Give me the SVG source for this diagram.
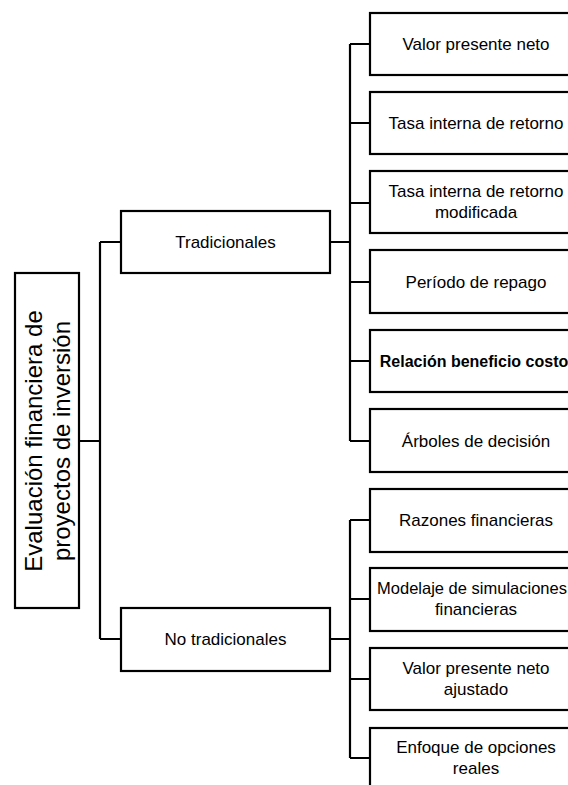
<svg xmlns="http://www.w3.org/2000/svg" width="568" height="785" viewBox="0 0 568 785">
<style>
.box{fill:#fff;stroke:#000;stroke-width:2.2}
.ln{fill:none;stroke:#000;stroke-width:2.2}
text{font-family:"Liberation Sans",Arial,sans-serif;font-size:17px;fill:#000;text-anchor:middle}
.b{font-weight:bold;font-size:16px}
.root{font-size:24px}
</style>
<rect width="568" height="785" fill="#fff"/>
<g id="connectors">
<path class="ln" d="M79 441H100M100 242V639M100 242H121M100 639H121"/>
<path class="ln" d="M330 242H350M350 44V441M350 44H370M350 123H370M350 203H370M350 282H370M350 361H370M350 441H370"/>
<path class="ln" d="M330 639H350M350 520V758M350 520H370M350 599H370M350 679H370M350 758H370"/>
</g>
<g id="root">
<rect class="box" x="15" y="273" width="64" height="335"/>
<text class="root" transform="translate(42,441) rotate(-90)">Evaluación financiera de</text>
<text class="root" transform="translate(70,441) rotate(-90)">proyectos de inversión</text>
</g>
<g id="tradicionales">
<rect class="box" x="121" y="211" width="209" height="62"/>
<text x="225.5" y="248">Tradicionales</text>
</g>
<g id="no-tradicionales">
<rect class="box" x="121" y="608" width="209" height="63"/>
<text x="225.5" y="645">No tradicionales</text>
</g>
<g id="n1"><rect class="box" x="370" y="13" width="215" height="62"/><text x="476" y="50">Valor presente neto</text></g>
<g id="n2"><rect class="box" x="370" y="92" width="215" height="62"/><text x="476" y="129">Tasa interna de retorno</text></g>
<g id="n3"><rect class="box" x="370" y="171" width="215" height="62"/><text x="476" y="197">Tasa interna de retorno</text><text x="476" y="218">modificada</text></g>
<g id="n4"><rect class="box" x="370" y="250" width="215" height="63"/><text x="476" y="288">Período de repago</text></g>
<g id="n5"><rect class="box" x="370" y="330" width="215" height="62"/><text class="b" x="474" y="367">Relación beneficio costo</text></g>
<g id="n6"><rect class="box" x="370" y="409" width="215" height="63"/><text x="476" y="447">Árboles de decisión</text></g>
<g id="n7"><rect class="box" x="370" y="489" width="215" height="63"/><text x="476" y="526">Razones financieras</text></g>
<g id="n8"><rect class="box" x="370" y="568" width="215" height="63"/><text x="472" y="594" style="font-size:16.5px">Modelaje de simulaciones</text><text x="476" y="615">financieras</text></g>
<g id="n9"><rect class="box" x="370" y="648" width="215" height="62"/><text x="476" y="674">Valor presente neto</text><text x="476" y="695">ajustado</text></g>
<g id="n10"><rect class="box" x="370" y="728" width="215" height="70"/><text x="476" y="753">Enfoque de opciones</text><text x="476" y="774">reales</text></g>
</svg>
